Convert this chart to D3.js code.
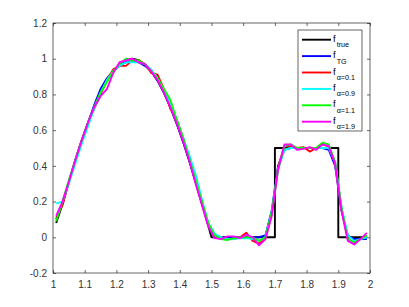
<!DOCTYPE html>
<html>
<head>
<meta charset="utf-8">
<script src="https://cdn.jsdelivr.net/npm/d3@7"></script>
<style>
    html, body { margin: 0; padding: 0; background: #fff; }
    svg { display: block; font-family: "Liberation Sans", Arial, sans-serif; }
</style>
</head>
<body>
<svg id="chart" width="409" height="307"></svg>
<script>
// sample grid shared by the reconstructions
const xGrid = [
    1.01, 1.03, 1.05, 1.07, 1.09, 1.11, 1.13, 1.15, 1.17, 1.19,
    1.21, 1.23, 1.25, 1.27, 1.29, 1.31, 1.33, 1.35, 1.37, 1.39,
    1.41, 1.43, 1.45, 1.47, 1.49, 1.51, 1.53, 1.55, 1.57, 1.59,
    1.61, 1.63, 1.65, 1.67, 1.69, 1.71, 1.73, 1.75, 1.77, 1.79,
    1.81, 1.83, 1.85, 1.87, 1.89, 1.91, 1.93, 1.95, 1.97, 1.99
];

// true signal (own x values because of the jumps)
const trueX = [
    1.01, 1.03, 1.05, 1.07, 1.09, 1.11, 1.13, 1.15, 1.17, 1.19,
    1.21, 1.23, 1.25, 1.27, 1.29, 1.31, 1.33, 1.35, 1.37, 1.39,
    1.41, 1.43, 1.45, 1.47, 1.49, 1.50, 1.70, 1.70, 1.90, 1.90, 1.99
];
const trueY = [
    0.08, 0.187, 0.309, 0.426, 0.536, 0.637, 0.729, 0.809, 0.876, 0.930,
    0.969, 0.992, 1.0, 0.992, 0.969, 0.930, 0.876, 0.809, 0.729, 0.637,
    0.536, 0.426, 0.309, 0.187, 0.063, 0, 0, 0.5, 0.5, 0, 0
];

const fTG = [
    0.10, 0.19, 0.31, 0.43, 0.54, 0.64, 0.74, 0.83, 0.89, 0.93,
    0.96, 0.98, 0.985, 0.98, 0.96, 0.93, 0.88, 0.81, 0.73, 0.64,
    0.54, 0.43, 0.31, 0.19, 0.07, 0.015, 0.0, -0.005, 0.0, 0.0,
    0.0, 0.0, 0.0, 0.01, 0.15, 0.40, 0.49, 0.50, 0.50, 0.50,
    0.50, 0.50, 0.50, 0.49, 0.40, 0.15, 0.01, -0.01, -0.01, -0.01
];
const fA01 = [
    0.11, 0.18, 0.31, 0.43, 0.54, 0.64, 0.72, 0.80, 0.88, 0.94,
    0.96, 0.96, 0.99, 0.99, 0.97, 0.92, 0.91, 0.83, 0.72, 0.66,
    0.56, 0.44, 0.32, 0.19, 0.07, 0.01, 0.0, -0.01, -0.01, 0.0,
    0.025, -0.02, -0.035, -0.01, 0.13, 0.39, 0.51, 0.51, 0.50, 0.505,
    0.48, 0.50, 0.52, 0.51, 0.42, 0.16, -0.01, -0.03, -0.01, 0.01
];
const fA09 = [
    0.19, 0.20, 0.30, 0.41, 0.52, 0.62, 0.72, 0.81, 0.88, 0.93,
    0.96, 0.98, 0.98, 0.98, 0.97, 0.94, 0.89, 0.82, 0.75, 0.66,
    0.56, 0.46, 0.35, 0.21, 0.08, 0.02, 0.0, -0.01, -0.01, -0.005,
    -0.005, -0.01, -0.02, 0.0, 0.14, 0.38, 0.49, 0.50, 0.50, 0.50,
    0.50, 0.50, 0.50, 0.50, 0.42, 0.17, 0.01, -0.02, -0.01, 0.0
];
const fA11 = [
    0.09, 0.20, 0.32, 0.43, 0.54, 0.64, 0.73, 0.81, 0.87, 0.93,
    0.97, 1.0, 0.99, 0.99, 0.97, 0.93, 0.89, 0.83, 0.77, 0.66,
    0.56, 0.44, 0.32, 0.20, 0.08, 0.01, -0.01, -0.015, -0.005, 0.0,
    0.0, 0.0, -0.02, 0.0, 0.14, 0.38, 0.51, 0.52, 0.50, 0.50,
    0.50, 0.50, 0.53, 0.52, 0.42, 0.17, -0.01, -0.03, -0.01, 0.01
];
const fA19 = [
    0.12, 0.20, 0.31, 0.43, 0.54, 0.64, 0.73, 0.79, 0.83, 0.92,
    0.98, 0.99, 1.0, 0.98, 0.97, 0.93, 0.88, 0.81, 0.73, 0.64,
    0.54, 0.43, 0.30, 0.18, 0.06, -0.005, -0.01, 0.005, 0.005, -0.005,
    0.015, 0.0, -0.045, -0.01, 0.12, 0.38, 0.52, 0.52, 0.49, 0.495,
    0.505, 0.49, 0.52, 0.51, 0.41, 0.15, -0.02, -0.04, -0.01, 0.025
];

const xTicks = [1, 1.1, 1.2, 1.3, 1.4, 1.5, 1.6, 1.7, 1.8, 1.9, 2];
const yTicks = [-0.2, 0, 0.2, 0.4, 0.6, 0.8, 1, 1.2];

const seriesList = [
    { sub: 'true', color: '#000000', xs: trueX, ys: trueY },
    { sub: 'TG', color: '#0000ff', xs: xGrid, ys: fTG },
    { sub: 'α=0.1', color: '#ff0000', xs: xGrid, ys: fA01 },
    { sub: 'α=0.9', color: '#00ffff', xs: xGrid, ys: fA09 },
    { sub: 'α=1.1', color: '#00ff00', xs: xGrid, ys: fA11 },
    { sub: 'α=1.9', color: '#ff00ff', xs: xGrid, ys: fA19 }
];

const margin = { top: 23, left: 53, right: 39, bottom: 34 };
const width = 409;
const height = 307;
const plotW = width - margin.left - margin.right;
const plotH = height - margin.top - margin.bottom;
const axisColor = '#262626';
const tickLen = 3;
const lineW = 1.9;

const svg = d3.select('#chart');
const g = svg.append('g').attr('transform', `translate(${margin.left},${margin.top})`);

const x = d3.scaleLinear().domain([1, 2]).range([0, plotW]);
const y = d3.scaleLinear().domain([-0.2, 1.2]).range([plotH, 0]);

const fmt = d => String(+d.toFixed(1));

function styleAxis(sel) {
    sel.select('.domain').remove();
    sel.selectAll('line').attr('stroke', axisColor).attr('stroke-width', 0.7);
    sel.selectAll('text')
        .attr('fill', '#333')
        .style('font-size', '10px');
}

g.append('g')
    .attr('transform', `translate(0,${plotH})`)
    .call(d3.axisBottom(x).tickValues(xTicks).tickFormat(fmt).tickSize(-tickLen).tickPadding(8))
    .call(styleAxis);
g.append('g')
    .call(d3.axisTop(x).tickValues(xTicks).tickFormat('').tickSize(-tickLen))
    .call(styleAxis);
g.append('g')
    .call(d3.axisLeft(y).tickValues(yTicks).tickFormat(fmt).tickSize(-tickLen).tickPadding(6))
    .call(styleAxis);
g.append('g')
    .attr('transform', `translate(${plotW},0)`)
    .call(d3.axisRight(y).tickValues(yTicks).tickFormat('').tickSize(-tickLen))
    .call(styleAxis);

const line = d3.line()
    .x(d => x(d[0]))
    .y(d => y(d[1]));

const lines = g.append('g');
seriesList.forEach(s => {
    const pts = s.xs.map((v, i) => [v, s.ys[i]]);
    lines.append('path')
        .datum(pts)
        .attr('fill', 'none')
        .attr('stroke', s.color)
        .attr('stroke-width', lineW)
        .attr('stroke-linejoin', 'round')
        .attr('d', line);
});

// plot box
g.append('rect')
    .attr('width', plotW)
    .attr('height', plotH)
    .attr('fill', 'none')
    .attr('stroke', axisColor)
    .attr('stroke-width', 0.7);

// legend
const lg = svg.append('g').attr('transform', 'translate(298,30)');
const rowH = 16.4;
lg.append('rect')
    .attr('width', 64)
    .attr('height', 101)
    .attr('fill', '#fff')
    .attr('stroke', axisColor)
    .attr('stroke-width', 0.7);

seriesList.forEach((s, i) => {
    const cy = 9.7 + i * rowH;
    lg.append('line')
        .attr('x1', 4).attr('x2', 33)
        .attr('y1', cy).attr('y2', cy)
        .attr('stroke', s.color)
        .attr('stroke-width', lineW);
    const t = lg.append('text')
        .attr('x', 35)
        .attr('y', cy + 2)
        .attr('fill', '#000')
        .style('font-size', '9.5px');
    t.append('tspan').text('f');
    t.append('tspan')
        .attr('dy', 5.5)
        .attr('dx', 1)
        .style('font-size', '7.2px')
        .text(s.sub);
});
</script>
</body>
</html>
